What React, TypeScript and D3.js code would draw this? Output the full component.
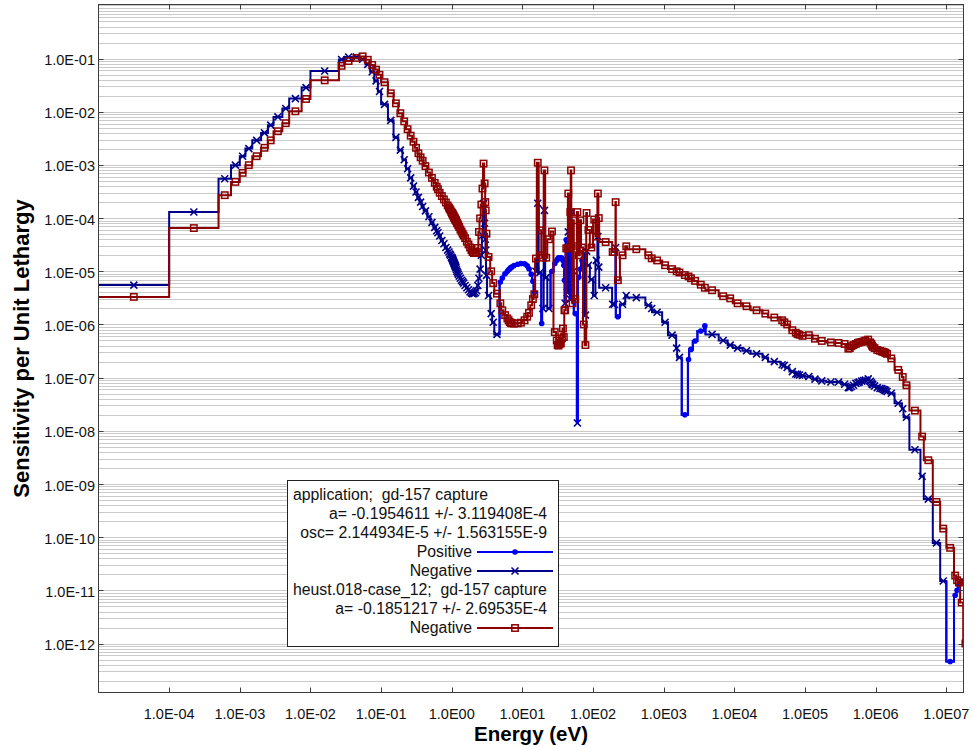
import React, { useRef, useEffect } from 'react';
import * as d3 from 'd3';

// energy group boundaries (eV), low to high
const groupBounds = [
	1e-5, 1e-4, 5e-4, 7.5e-4, 1e-3, 1.2e-3, 1.5e-3, 2e-3, 2.5e-3, 3e-3,
	4e-3, 5e-3, 7.5e-3, 1e-2, 2.53e-2, 3e-2, 4e-2, 5e-2, 6e-2, 7e-2,
	8e-2, 9e-2, 0.1, 0.125, 0.15, 0.175, 0.2, 0.225, 0.25, 0.275,
	0.3, 0.325, 0.35, 0.375, 0.4, 0.45, 0.5, 0.55, 0.6, 0.625,
	0.65, 0.7, 0.75, 0.8, 0.85, 0.9, 0.925, 0.95, 0.975, 1.0,
	1.01, 1.02, 1.03, 1.04, 1.05, 1.06, 1.07, 1.08, 1.09, 1.1,
	1.11, 1.12, 1.13, 1.14, 1.15, 1.175, 1.2, 1.225, 1.25, 1.3,
	1.35, 1.4, 1.45, 1.5, 1.59, 1.68, 1.77, 1.86, 1.94, 2.0,
	2.12, 2.21, 2.3, 2.38, 2.47, 2.57, 2.67, 2.77, 2.87, 2.97,
	3.0, 3.05, 3.15, 3.5, 3.73, 4.0, 4.75, 5.0, 5.4, 6.0,
	6.25, 6.5, 6.75, 6.875, 7.0, 7.15, 8.1, 9.1, 10, 11.5,
	11.9, 12.9, 13.75, 14.4, 15.1, 16, 17, 18.5, 19, 20,
	21, 22.5, 25, 27.5, 30, 31.25, 31.75, 33.25, 33.75, 34.6,
	35.5, 37, 38, 39.1, 39.6, 41, 42.4, 44, 45.2, 47,
	48.3, 49.2, 50.6, 52, 53.4, 59, 61, 65, 67.5, 72,
	76, 80, 82, 90, 100, 108, 115, 119, 122, 186,
	192.5, 207.5, 210, 240, 285, 305, 550, 670, 683, 950,
	1150, 1500, 1550, 1800, 2200, 2290, 2580, 3000, 3740, 3900,
	6000, 8030, 9500, 1.3e4, 1.7e4, 2.5e4, 3e4, 4.5e4, 5e4, 5.2e4,
	6e4, 7.3e4, 7.5e4, 8.2e4, 8.5e4, 1e5, 1.283e5, 1.49e5, 2e5, 2.7e5,
	3.3e5, 4e5, 4.2e5, 4.4e5, 4.7e5, 4.9952e5, 5.5e5, 5.73e5, 6e5, 6.7e5,
	6.79e5, 7.5e5, 8.2e5, 8.611e5, 8.75e5, 9e5, 9.2e5, 1.01e6, 1.1e6, 1.2e6,
	1.25e6, 1.317e6, 1.356e6, 1.4e6, 1.5e6, 1.85e6, 2.354e6, 2.479e6, 3e6, 4.304e6,
	4.8e6, 6.434e6, 8.1873e6, 1e7, 1.284e7, 1.384e7, 1.455e7, 1.5683e7, 1.733e7, 2e7,
];

// application; gd-157 capture  (sign kept: <0 -> "Negative", >0 -> "Positive")
const appSensitivity = [
	-5.5e-6, -1.3e-4, -5.5e-4, -9.9e-4, -1.46e-3, -2.03e-3, -2.9e-3, -4.0e-3, -5.6e-3, -8.0e-3,
	-1.15e-2, -1.77e-2, -2.85e-2, -5.85e-2, -9.6e-2, -1.07e-1, -1.07e-1, -9.7e-2, -7.8e-2, -5.65e-2,
	-3.8e-2, -2.4e-2, -1.38e-2, -6.9e-3, -3.3e-3, -1.9e-3, -1.25e-3, -8.5e-4, -5.7e-4, -4.0e-4,
	-3.1e-4, -2.45e-4, -2.0e-4, -1.65e-4, -1.37e-4, -1.06e-4, -8.3e-5, -6.7e-5, -5.8e-5, -5.3e-5,
	-4.6e-5, -3.8e-5, -3.3e-5, -2.8e-5, -2.5e-5, -2.3e-5, -2.1e-5, -2.0e-5, -1.85e-5, -1.8e-5,
	-1.74e-5, -1.68e-5, -1.63e-5, -1.58e-5, -1.53e-5, -1.48e-5, -1.44e-5, -1.4e-5, -1.36e-5, -1.32e-5,
	-1.28e-5, -1.24e-5, -1.2e-5, -1.16e-5, -1.07e-5, -1.0e-5, -9.4e-6, -8.8e-6, -8.1e-6, -7.4e-6,
	-6.8e-6, -6.4e-6, -6.0e-6, -5.4e-6, -4.9e-6, -4.5e-6, -4.1e-6, -3.9e-6, -3.8e-6, -3.8e-6,
	-3.95e-6, -4.3e-6, -5.4e-6, -7.4e-6, -1.1e-5, -2.0e-5, -4.7e-5, -1.87e-4, -8.0e-5, -4.0e-5,
	-2.5e-5, -8.4e-6, -3.5e-6, -1.6e-6, -1.1e-6, -6.5e-7, 6.3e-6, 7.5e-6, 9.0e-6, 1.0e-5,
	1.07e-5, 1.12e-5, 1.16e-5, 1.18e-5, 1.2e-5, 1.28e-5, 1.36e-5, 1.4e-5, 1.38e-5, 1.27e-5,
	1.12e-5, 8.8e-6, 6.5e-6, 4.0e-6, -1.0e-5, -1.9e-4, -9.5e-6, 1.04e-6, -2.0e-6, -1.4e-4,
	-7.7e-6, -2.0e-6, 1.0e-5, 1.4e-5, 1.6e-5, 1.7e-5, 1.8e-5, 1.8e-5, 1.8e-5, 1.8e-5,
	1.75e-5, 1.6e-5, 1.3e-5, 6.8e-6, -2.5e-6, 3.9e-5, -4.0e-6, -5.5e-5, 2.2e-5, -3.0e-6,
	-1.3e-4, 8.0e-6, 3.0e-6, -1.0e-5, 1.6e-6, -1.4e-8, 7.7e-6, 1.1e-5, 1.6e-5, -2.0e-5,
	-1.5e-6, -2.4e-5, -1.3e-5, -7.0e-6, -3.5e-6, -1.6e-5, -4.5e-5, -1.2e-5, -4.9e-6, -2.4e-6,
	-2.4e-6, -2.8e-5, 1.4e-6, -2.4e-6, -3.5e-6, -3.2e-6, -2.3e-6, -2.0e-6, -1.7e-6, -1.1e-6,
	-6.3e-7, -3.6e-7, -2.4e-7, 2.0e-8, 2.2e-7, 3.4e-7, 4.9e-7, 7.5e-7, 9.4e-7, -6.5e-7,
	-5.0e-7, -4.1e-7, -3.6e-7, -3.2e-7, -2.8e-7, -2.4e-7, -2.0e-7, -1.75e-7, -1.7e-7, -1.55e-7,
	-1.3e-7, -1.17e-7, -1.15e-7, -1.12e-7, -1.1e-7, -1.05e-7, -9.4e-8, -8.7e-8, -8.3e-8, -8.3e-8,
	-7.5e-8, -6.5e-8, -6.5e-8, -6.8e-8, -7.2e-8, -7.8e-8, -8.0e-8, -8.3e-8, -8.6e-8, -8.8e-8,
	-9.0e-8, -9.5e-8, -8.5e-8, -8.0e-8, -7.6e-8, -7.4e-8, -7.0e-8, -6.5e-8, -6.3e-8, -6.2e-8,
	-6.0e-8, -5.9e-8, -5.7e-8, -5.5e-8, -5.1e-8, -3.3e-8, -2.6e-8, -1.8e-8, -4.4e-9, -1.4e-9,
	-5.2e-10, -7.8e-11, -1.5e-11, 4.6e-13, 8.1e-12, 1.0e-11, 1.3e-11, 1.5e-11, 1.5e-11,
];

// heust.018-case_12; gd-157 capture (all negative)
const heustSensitivity = [
	-3.3e-6, -6.5e-5, -2.7e-4, -4.8e-4, -7.1e-4, -9.9e-4, -1.46e-3, -2.1e-3, -2.9e-3, -4.3e-3,
	-6.1e-3, -1.02e-2, -1.74e-2, -3.9e-2, -7.3e-2, -9.0e-2, -1.03e-1, -1.1e-1, -9.5e-2, -7.6e-2,
	-6.2e-2, -4.95e-2, -3.6e-2, -2.23e-2, -1.44e-2, -9.4e-3, -6.6e-3, -4.7e-3, -3.55e-3, -2.73e-3,
	-2.1e-3, -1.66e-3, -1.39e-3, -1.2e-3, -9.5e-4, -7.2e-4, -5.7e-4, -4.6e-4, -3.9e-4, -3.5e-4,
	-3.0e-4, -2.6e-4, -2.25e-4, -1.97e-4, -1.73e-4, -1.58e-4, -1.48e-4, -1.39e-4, -1.3e-4, -1.26e-4,
	-1.23e-4, -1.2e-4, -1.17e-4, -1.14e-4, -1.11e-4, -1.08e-4, -1.06e-4, -1.03e-4, -1.01e-4, -9.8e-5,
	-9.6e-5, -9.4e-5, -9.2e-5, -9.0e-5, -8.7e-5, -8.1e-5, -7.8e-5, -7.3e-5, -6.8e-5, -6.1e-5,
	-5.6e-5, -5.1e-5, -4.7e-5, -4.2e-5, -3.6e-5, -3.2e-5, -2.8e-5, -2.5e-5, -2.3e-5, -2.2e-5,
	-2.2e-5, -2.3e-5, -2.75e-5, -5.5e-5, -9.9e-5, -1.8e-4, -3.6e-4, -1.06e-3, -4.5e-4, -2.0e-4,
	-1.4e-4, -5.1e-5, -1.86e-5, -1.0e-5, -6.0e-6, -3.8e-6, -2.5e-6, -1.85e-6, -1.5e-6, -1.3e-6,
	-1.2e-6, -1.11e-6, -1.08e-6, -1.06e-6, -1.05e-6, -1.04e-6, -1.05e-6, -1.08e-6, -1.2e-6, -1.4e-6,
	-1.65e-6, -2.3e-6, -3.0e-6, -3.7e-6, -1.74e-5, -1.1e-3, -5.9e-5, -2.0e-5, -1.8e-5, -7.9e-4,
	-1.8e-5, -4.0e-5, -5.6e-5, -7.2e-7, -5.0e-7, -4.1e-7, -4.0e-7, -4.3e-7, -4.6e-7, -4.4e-7,
	-5.5e-7, -8.4e-7, -5.8e-7, -1.85e-6, -1.85e-6, -2.7e-5, -2.7e-5, -2.9e-4, -2.8e-5, -1.3e-4,
	-7.9e-4, -3.0e-5, -2.5e-6, -9.1e-5, -3.0e-6, -1.3e-4, -2.0e-5, -9.1e-5, -2.8e-5, -1.0e-6,
	-4.1e-7, -1.25e-4, -6.0e-5, -2.8e-5, -9.4e-5, -4.5e-5, -2.9e-4, -1.0e-4, -3.55e-5, -2.3e-5,
	-2.3e-5, -2.0e-4, -6.8e-6, -2.0e-5, -2.95e-5, -2.6e-5, -2.0e-5, -1.75e-5, -1.6e-5, -1.3e-5,
	-1.1e-5, -1.0e-5, -9.5e-6, -8.5e-6, -8.0e-6, -7.4e-6, -6.6e-6, -5.6e-6, -4.9e-6, -4.4e-6,
	-3.4e-6, -3.1e-6, -2.5e-6, -2.2e-6, -1.85e-6, -1.6e-6, -1.35e-6, -1.2e-6, -1.1e-6, -1.0e-6,
	-7.8e-7, -7.0e-7, -6.6e-7, -6.4e-7, -6.1e-7, -6.3e-7, -5.4e-7, -4.9e-7, -4.6e-7, -4.5e-7,
	-4.3e-7, -3.5e-7, -3.6e-7, -3.9e-7, -4.1e-7, -4.3e-7, -4.5e-7, -4.6e-7, -4.7e-7, -4.8e-7,
	-5.0e-7, -5.2e-7, -4.6e-7, -4.3e-7, -4.0e-7, -3.8e-7, -3.6e-7, -3.3e-7, -3.2e-7, -3.1e-7,
	-3.05e-7, -3.0e-7, -2.9e-7, -2.8e-7, -2.3e-7, -1.4e-7, -1.03e-7, -7.2e-8, -2.4e-8, -7.8e-9,
	-2.8e-9, -4.6e-10, -1.45e-10, -6.3e-11, -1.9e-11, -1.55e-11, -1.4e-11, -5.9e-12, -1.0e-12,
];

const xTickValues = [1e-4, 1e-3, 1e-2, 1e-1, 1, 10, 100, 1e3, 1e4, 1e5, 1e6, 1e7];
const xTickLabels = ['1.0E-04', '1.0E-03', '1.0E-02', '1.0E-01', '1.0E00', '1.0E01', '1.0E02', '1.0E03', '1.0E04', '1.0E05', '1.0E06', '1.0E07'];
const yTickValues = [1e-1, 1e-2, 1e-3, 1e-4, 1e-5, 1e-6, 1e-7, 1e-8, 1e-9, 1e-10, 1e-11, 1e-12];
const yTickLabels = ['1.0E-01', '1.0E-02', '1.0E-03', '1.0E-04', '1.0E-05', '1.0E-06', '1.0E-07', '1.0E-08', '1.0E-09', '1.0E-10', '1.0E-11', '1.0E-12'];

const legendRows = [
	{ text: 'application;  gd-157 capture', kind: 'left' },
	{ text: 'a= -0.1954611 +/- 3.119408E-4', kind: 'right' },
	{ text: 'osc= 2.144934E-5 +/- 1.563155E-9', kind: 'right' },
	{ text: 'Positive', kind: 'pos' },
	{ text: 'Negative', kind: 'neg' },
	{ text: 'heust.018-case_12;  gd-157 capture', kind: 'left' },
	{ text: 'a= -0.1851217 +/- 2.69535E-4', kind: 'right' },
	{ text: 'Negative', kind: 'heust' },
];

const W = 974;
const H = 748;
const P = { left: 98.5, right: 963.5, top: 4.5, bottom: 692.5 };
const NAVY = '#00008b';
const BLUE = '#0000f0';
const RED = '#8b0000';
const FONT = '"Liberation Sans", Arial, Helvetica, sans-serif';

function drawMarker(g, kind, cx, cy) {
	if (kind === 'neg') {
		g.append('path')
			.attr('d', `M${cx - 3.5},${cy - 3.5}L${cx + 3.5},${cy + 3.5}M${cx - 3.5},${cy + 3.5}L${cx + 3.5},${cy - 3.5}`)
			.attr('stroke', NAVY)
			.attr('stroke-width', 1.6)
			.attr('fill', 'none');
	} else if (kind === 'pos') {
		g.append('circle').attr('cx', cx).attr('cy', cy).attr('r', 2.8).attr('fill', BLUE);
	} else {
		g.append('rect')
			.attr('x', cx - 3.2)
			.attr('y', cy - 3.2)
			.attr('width', 6.4)
			.attr('height', 6.4)
			.attr('fill', 'none')
			.attr('stroke', RED)
			.attr('stroke-width', 1.5);
	}
}

function SensitivityChart() {
	const svgRef = useRef(null);

	useEffect(() => {
		const svg = d3.select(svgRef.current);
		svg.selectAll('*').remove();

		const x = d3.scaleLog().domain([1e-5, 1.75e7]).range([P.left, P.right]);
		const y = d3.scaleLog().domain([1.2e-13, 1.04]).range([P.bottom, P.top]);
		const n = heustSensitivity.length;
		const mid = (i) => Math.sqrt(groupBounds[i] * groupBounds[i + 1]);

		svg.append('rect').attr('width', W).attr('height', H).attr('fill', '#fff');
		svg.append('defs')
			.append('clipPath')
			.attr('id', 'plot-clip')
			.append('rect')
			.attr('x', P.left)
			.attr('y', P.top)
			.attr('width', P.right - P.left)
			.attr('height', P.bottom - P.top);

		// horizontal grid lines at every 1..9 x decade
		const gridVals = [];
		for (let e = -13; e <= 0; e++) {
			for (let k = 1; k <= 9; k++) {
				const v = k * Math.pow(10, e);
				if (v > y.domain()[0] && v < y.domain()[1]) gridVals.push(v);
			}
		}
		svg.append('g')
			.selectAll('line')
			.data(gridVals)
			.join('line')
			.attr('x1', P.left)
			.attr('x2', P.right)
			.attr('y1', (d) => Math.round(y(d)) + 0.5)
			.attr('y2', (d) => Math.round(y(d)) + 0.5)
			.attr('stroke', '#cacaca')
			.attr('stroke-width', 1);

		const stepLine = d3
			.line()
			.x((d) => x(d[0]))
			.y((d) => y(d[1]))
			.curve(d3.curveStepAfter);
		const stepPts = (vals) => {
			const pts = vals.map((v, i) => [groupBounds[i], Math.abs(v)]);
			pts.push([groupBounds[vals.length], Math.abs(vals[vals.length - 1])]);
			return pts;
		};

		const plot = svg.append('g').attr('clip-path', 'url(#plot-clip)');

		// application, negative part (drawn through everything, the positive runs cover it)
		plot.append('path')
			.attr('d', stepLine(stepPts(appSensitivity)))
			.attr('fill', 'none')
			.attr('stroke', NAVY)
			.attr('stroke-width', 2);
		const negMarks = plot.append('g');
		appSensitivity.forEach((v, i) => {
			if (v < 0) drawMarker(negMarks, 'neg', x(mid(i)), y(-v));
		});

		// application, positive runs
		const runs = [];
		let i = 0;
		while (i < n) {
			if (appSensitivity[i] > 0) {
				let j = i;
				while (j + 1 < n && appSensitivity[j + 1] > 0) j++;
				const pts = [];
				if (i > 0) pts.push([groupBounds[i], Math.abs(appSensitivity[i - 1])]);
				for (let k = i; k <= j; k++) pts.push([groupBounds[k], appSensitivity[k]]);
				pts.push([groupBounds[j + 1], appSensitivity[j]]);
				if (j + 1 < n) pts.push([groupBounds[j + 1], Math.abs(appSensitivity[j + 1])]);
				runs.push(pts);
				i = j + 1;
			} else i++;
		}
		plot.append('g')
			.selectAll('path')
			.data(runs)
			.join('path')
			.attr('d', (d) => stepLine(d))
			.attr('fill', 'none')
			.attr('stroke', BLUE)
			.attr('stroke-width', 2);
		const posMarks = plot.append('g');
		appSensitivity.forEach((v, k) => {
			if (v > 0) drawMarker(posMarks, 'pos', x(mid(k)), y(v));
		});

		// heust case
		plot.append('path')
			.attr('d', stepLine(stepPts(heustSensitivity)))
			.attr('fill', 'none')
			.attr('stroke', RED)
			.attr('stroke-width', 2);
		const redMarks = plot.append('g');
		heustSensitivity.forEach((v, k) => drawMarker(redMarks, 'heust', x(mid(k)), y(-v)));

		// frame + inward ticks
		svg.append('rect')
			.attr('x', P.left)
			.attr('y', P.top)
			.attr('width', P.right - P.left)
			.attr('height', P.bottom - P.top)
			.attr('fill', 'none')
			.attr('stroke', '#3c3c3c')
			.attr('stroke-width', 1);
		const ticks = svg.append('g').attr('stroke', '#3c3c3c').attr('stroke-width', 1);
		xTickValues.forEach((v) => {
			const px = Math.round(x(v)) + 0.5;
			ticks.append('line').attr('x1', px).attr('x2', px).attr('y1', P.bottom).attr('y2', P.bottom - 5);
			ticks.append('line').attr('x1', px).attr('x2', px).attr('y1', P.top).attr('y2', P.top + 5);
		});
		yTickValues.forEach((v) => {
			const py = Math.round(y(v)) + 0.5;
			ticks.append('line').attr('x1', P.left).attr('x2', P.left + 5).attr('y1', py).attr('y2', py);
			ticks.append('line').attr('x1', P.right).attr('x2', P.right - 5).attr('y1', py).attr('y2', py);
		});

		// tick labels
		svg.append('g')
			.selectAll('text')
			.data(xTickValues)
			.join('text')
			.attr('x', (d) => x(d))
			.attr('y', 719)
			.attr('text-anchor', 'middle')
			.attr('font-family', FONT)
			.attr('font-size', 14.5)
			.attr('fill', '#111')
			.text((d, k) => xTickLabels[k]);
		svg.append('g')
			.selectAll('text')
			.data(yTickValues)
			.join('text')
			.attr('x', 95)
			.attr('y', (d) => y(d) + 6.5)
			.attr('text-anchor', 'end')
			.attr('font-family', FONT)
			.attr('font-size', 14.5)
			.attr('fill', '#111')
			.text((d, k) => yTickLabels[k]);

		// axis titles
		svg.append('text')
			.attr('x', (P.left + P.right) / 2)
			.attr('y', 741)
			.attr('text-anchor', 'middle')
			.attr('font-family', FONT)
			.attr('font-weight', 'bold')
			.attr('font-size', 20.5)
			.attr('fill', '#000')
			.text('Energy (eV)');
		svg.append('text')
			.attr('transform', `translate(28.5, ${(P.top + P.bottom) / 2}) rotate(-90)`)
			.attr('text-anchor', 'middle')
			.attr('font-family', FONT)
			.attr('font-weight', 'bold')
			.attr('font-size', 22)
			.attr('fill', '#000')
			.text('Sensitivity per Unit Lethargy');

		// legend
		const lg = svg.append('g');
		lg.append('rect')
			.attr('x', 287.5)
			.attr('y', 480.5)
			.attr('width', 271)
			.attr('height', 166)
			.attr('fill', '#fff')
			.attr('stroke', '#222')
			.attr('stroke-width', 1);
		legendRows.forEach((row, k) => {
			const base = 500 + k * 19;
			const t = lg.append('text')
				.attr('y', base)
				.attr('font-family', FONT)
				.attr('font-size', 15.8)
				.attr('fill', '#111')
				.style('white-space', 'pre')
				.text(row.text);
			if (row.kind === 'left') t.attr('x', 293).attr('text-anchor', 'start');
			else if (row.kind === 'right') t.attr('x', 547).attr('text-anchor', 'end');
			else {
				t.attr('x', 472).attr('text-anchor', 'end');
				const color = row.kind === 'pos' ? BLUE : row.kind === 'neg' ? NAVY : RED;
				lg.append('line')
					.attr('x1', 477)
					.attr('x2', 553)
					.attr('y1', base - 5)
					.attr('y2', base - 5)
					.attr('stroke', color)
					.attr('stroke-width', 2);
				drawMarker(lg, row.kind, 515, base - 5);
			}
		});
	}, []);

	return (
		<svg
			ref={svgRef}
			width={W}
			height={H}
			style={{ position: 'absolute', left: 0, top: 0, display: 'block' }}
		/>
	);
}

export default function App() {
	return <SensitivityChart />;
}
